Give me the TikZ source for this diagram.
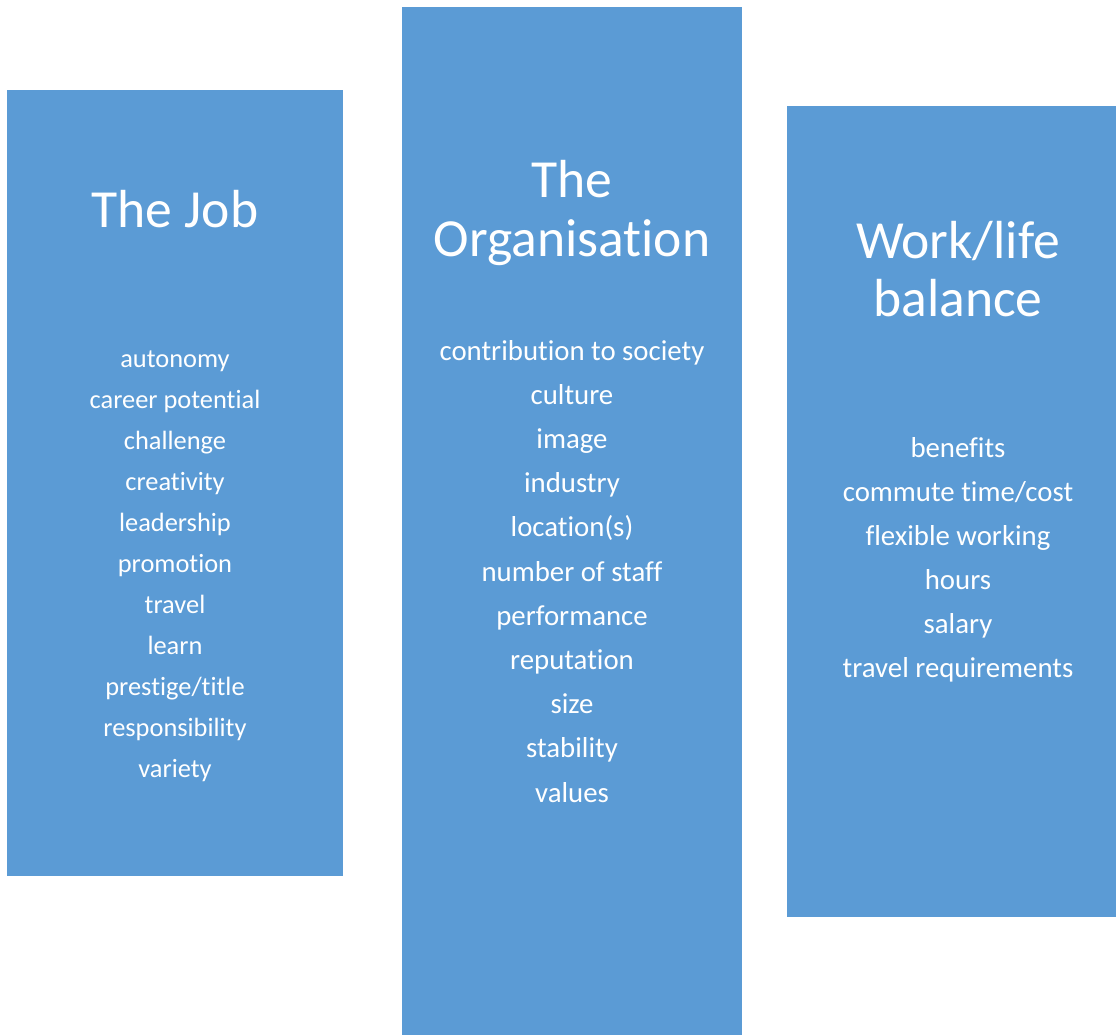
\documentclass[tikz,border=0pt]{standalone}
\usepackage{fontspec}
\setmainfont{Carlito}[Ligatures=NoCommon]
\usepackage{tikz}
\usetikzlibrary{positioning}
\definecolor{boxblue}{HTML}{5B9BD5}

\tikzset{
  column/.style={fill=boxblue, draw=none},
  heading/.style={text=white, anchor=base, inner sep=0pt, font=\fontsize{26.8}{29}\selectfont},
  entry/.style={text=white, anchor=base, inner sep=0pt, font=\fontsize{14.4}{16}\selectfont},
  smallentry/.style={entry, font=\fontsize{13.2}{15}\selectfont}
}

\begin{document}
\begin{tikzpicture}[x=0.5pt, y=-0.5pt]
\useasboundingbox (0,0) rectangle (1116,1035);
% the three columns
\fill[column] (7,90) rectangle (343,876);
\fill[column] (402,7) rectangle (742,1035);
\fill[column] (787,106) rectangle (1116,917);
% headings
\node[heading] (jobtitle) at (175,227) {The Job};
\node[heading] (orgtitle) at (572,197) {The};
\node[heading] (orgtitle2) at (572,256) {Organisation};
\node[heading] (lifetitle) at (958,258) {Work/life};
\node[heading] (lifetitle2) at (958,316) {balance};
% the job
\foreach \txt [count=\i from 0] in {autonomy, career potential, challenge, creativity,
    leadership, promotion, travel, learn, prestige/title, responsibility, variety}
  \node[smallentry] (job-\i) at (175,{367+41*\i}) {\txt};
% the organisation
\foreach \txt [count=\i from 0] in {contribution to society, culture, image, industry,
    location(s), number of staff, performance, reputation, size, stability, values}
  \node[entry] (org-\i) at (572,{360+44.2*\i}) {\txt};
% work/life balance
\foreach \txt [count=\i from 0] in {benefits, commute time/cost, flexible working,
    hours, salary, travel requirements}
  \node[entry] (life-\i) at (958,{457+44*\i}) {\txt};
\end{tikzpicture}
\end{document}
